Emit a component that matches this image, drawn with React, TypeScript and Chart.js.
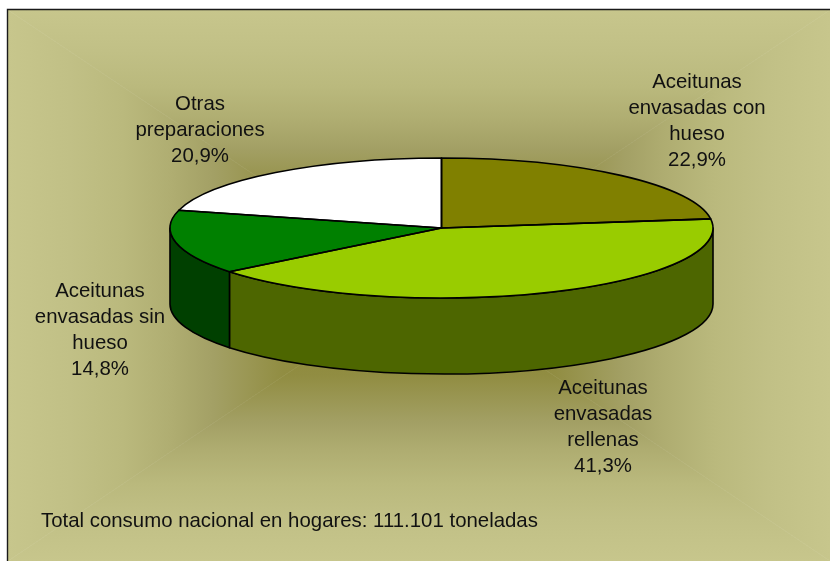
import React, { useEffect, useRef } from "react";
import { Chart, registerables } from "chart.js";

Chart.register(...registerables);

const categories = [
  "Aceitunas envasadas con hueso",
  "Aceitunas envasadas rellenas",
  "Aceitunas envasadas sin hueso",
  "Otras preparaciones",
];
const shares = [22.9, 41.3, 14.8, 20.9];
const shareLabels = ["22,9%", "41,3%", "14,8%", "20,9%"];
const labelLines = [
  ["Aceitunas", "envasadas con", "hueso"],
  ["Aceitunas", "envasadas", "rellenas"],
  ["Aceitunas", "envasadas sin", "hueso"],
  ["Otras", "preparaciones"],
];
const topColors = ["#808000", "#99CC00", "#008000", "#FFFFFF"];
const wallColors = ["#404000", "#4D6600", "#004000", "#808080"];
const footnote = "Total consumo nacional en hogares: 111.101 toneladas";

const W = 830;
const H = 561;
const labelAnchors = [
  { x: 697, y: 82 },
  { x: 603, y: 388 },
  { x: 100, y: 291 },
  { x: 200, y: 104 },
];
const FONT = '20.4px "Liberation Sans", Arial, sans-serif';
const LINE = 26;
const SQUASH = 70 / 271.5;
const TOP_Y = 228;
const DEPTH = 76;

const pie3d = {
  id: "pie3d",
  beforeDraw(chart: any) {
    const ctx = chart.ctx;
    const x0 = 8, y0 = 10, x1 = 830, y1 = 561;
    const cx = 419, cy = 285;
    const stops: [number, string][] = [
      [0, "#85802E"],
      [0.33, "#918D42"],
      [0.5, "#A3A065"],
      [0.6, "#AFAD71"],
      [0.72, "#BAB97D"],
      [0.85, "#C1C086"],
      [1, "#C7C68C"],
    ];
    const tris = [
      [[x0, y0], [x1, y0], [cx, y0]],
      [[x1, y0], [x1, y1], [x1, cy]],
      [[x1, y1], [x0, y1], [cx, y1]],
      [[x0, y1], [x0, y0], [x0, cy]],
    ];
    ctx.save();
    ctx.fillStyle = "#fff";
    ctx.fillRect(0, 0, W, H);
    for (const [a, b, m] of tris) {
      const g = ctx.createLinearGradient(cx, cy, m[0], m[1]);
      stops.forEach(([o, c]) => g.addColorStop(o, c));
      ctx.fillStyle = g;
      ctx.beginPath();
      ctx.moveTo(cx, cy);
      ctx.lineTo(a[0], a[1]);
      ctx.lineTo(b[0], b[1]);
      ctx.closePath();
      ctx.fill();
      ctx.strokeStyle = g;
      ctx.lineWidth = 0.6;
      ctx.stroke();
    }
    ctx.strokeStyle = "#1a1a1a";
    ctx.lineWidth = 1.4;
    ctx.beginPath();
    ctx.moveTo(7.5, H);
    ctx.lineTo(7.5, 9.5);
    ctx.lineTo(W, 9.5);
    ctx.stroke();
    ctx.restore();
  },
  beforeDatasetsDraw(chart: any) {
    const ctx = chart.ctx;
    const arcs = chart.getDatasetMeta(0).data;
    const first = arcs[0];
    const cx = first.x;
    const r = first.outerRadius;
    const ry = r * SQUASH;
    ctx.save();
    ctx.lineWidth = 1.6;
    ctx.strokeStyle = "#000";
    ctx.lineJoin = "round";
    arcs.forEach((arc: any, i: number) => {
      const a0 = Math.max(arc.startAngle, 0);
      const a1 = Math.min(arc.endAngle, Math.PI);
      if (a1 <= a0) return;
      ctx.beginPath();
      ctx.ellipse(cx, TOP_Y, r, ry, 0, a0, a1);
      ctx.ellipse(cx, TOP_Y + DEPTH, r, ry, 0, a1, a0, true);
      ctx.closePath();
      ctx.fillStyle = wallColors[i];
      ctx.fill();
      ctx.stroke();
    });
    ctx.restore();
    ctx.save();
    ctx.transform(1, 0, 0, SQUASH, 0, TOP_Y - SQUASH * first.y);
  },
  afterDatasetsDraw(chart: any) {
    const ctx = chart.ctx;
    ctx.restore();
    const arcs = chart.getDatasetMeta(0).data;
    ctx.save();
    ctx.lineWidth = 1.6;
    ctx.strokeStyle = "#000";
    ctx.lineJoin = "round";
    arcs.forEach((arc: any) => {
      const ry = arc.outerRadius * SQUASH;
      ctx.beginPath();
      ctx.moveTo(arc.x, TOP_Y);
      ctx.ellipse(arc.x, TOP_Y, arc.outerRadius, ry, 0, arc.startAngle, arc.endAngle);
      ctx.closePath();
      ctx.stroke();
    });
    ctx.restore();
  },
  afterDraw(chart: any) {
    const ctx = chart.ctx;
    ctx.save();
    ctx.font = FONT;
    ctx.fillStyle = "#111";
    ctx.textAlign = "center";
    ctx.textBaseline = "middle";
    labelLines.forEach((lines, i) => {
      const all = [...lines, shareLabels[i]];
      all.forEach((t, j) => {
        ctx.fillText(t, labelAnchors[i].x, labelAnchors[i].y + j * LINE);
      });
    });
    ctx.textAlign = "left";
    ctx.fillText(footnote, 41, 521);
    ctx.restore();
  },
};

export default function App() {
  const ref = useRef<HTMLCanvasElement | null>(null);
  useEffect(() => {
    document.body.style.margin = "0";
    const chart = new Chart(ref.current as HTMLCanvasElement, {
      type: "pie",
      data: {
        labels: categories,
        datasets: [
          {
            data: shares,
            backgroundColor: topColors,
            borderWidth: 0,
            clip: false,
          } as any,
        ],
      },
      options: {
        animation: false,
        responsive: false,
        devicePixelRatio: 1,
        layout: { padding: { left: 170, right: 117, top: 9, bottom: 9 } },
        plugins: { legend: { display: false }, tooltip: { enabled: false } },
      },
      plugins: [pie3d as any],
    });
    return () => chart.destroy();
  }, []);
  return (
    <canvas
      ref={ref}
      width={W}
      height={H}
      style={{ display: "block", width: W, height: H }}
    />
  );
}
